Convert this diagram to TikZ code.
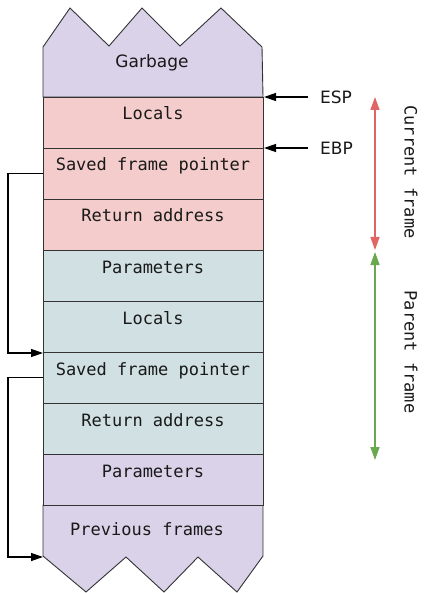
\documentclass[tikz,border=0pt]{standalone}
\usepackage{fontspec}
\setmainfont{DejaVu Sans}
\setmonofont{DejaVu Sans Mono}
\usetikzlibrary{arrows.meta,positioning}
\definecolor{garbagepurple}{HTML}{D9D2E9}
\definecolor{currentpink}{HTML}{F4CCCC}
\definecolor{parentblue}{HTML}{D0E0E3}
\definecolor{framered}{HTML}{E06666}
\definecolor{framegreen}{HTML}{6AA84F}
\tikzset{
  cell/.style={draw=black!80, line width=0.9pt, minimum width=220pt, minimum height=51pt,
    inner sep=0pt, outer sep=0pt, text height=12pt, text depth=17pt, font=\fontsize{17}{20}\selectfont\ttfamily},
  regname/.style={inner xsep=12pt, inner ysep=4pt, font=\fontsize{17}{20}\selectfont},
  framename/.style={rotate=-90, font=\fontsize{17}{20}\selectfont\ttfamily},
  ptr/.style={-{Triangle[length=12pt,width=8pt]}, line width=1.3pt},
  span/.style={{Triangle[length=13pt,width=9pt]}-{Triangle[length=13pt,width=9pt]}, line width=1.5pt}
}
\begin{document}
\begin{tikzpicture}[x=1pt, y=-1pt, text=black!90]
    \useasboundingbox (0,0) rectangle (423,593);
    % top and bottom of the stack
    \filldraw[fill=garbagepurple, draw=black!80, line width=0.9pt]
    (43,97) -- (43,47) -- (70,8) -- (109,46) -- (142,8) -- (180,46) -- (221,8) -- (262,47) -- (263,97) -- cycle;
    \filldraw[fill=garbagepurple, draw=black!80, line width=0.9pt]
    (43,505) -- (263,505) -- (263,556) -- (237,592) -- (198,557) -- (164,592) -- (126,557) -- (86,592) -- (43,556) -- cycle;
    \node[font=\fontsize{17}{20}\selectfont] (garbage) at (152,63) {Garbage};
    \node[font=\fontsize{17}{20}\selectfont\ttfamily] (prev) at (147,529) {Previous frames};
    \coordinate (prevtip) at (43,557);
    % current frame
    \node[cell, fill=currentpink, anchor=north west] (locals1) at (43,97) {Locals};
    \node[cell, fill=currentpink, below=0pt of locals1] (sfp1) {Saved frame pointer};
    \node[cell, fill=currentpink, below=0pt of sfp1] (ra1) {Return address};
    % parent frame
    \node[cell, fill=parentblue, below=0pt of ra1] (par1) {Parameters};
    \node[cell, fill=parentblue, below=0pt of par1] (locals2) {Locals};
    \node[cell, fill=parentblue, below=0pt of locals2] (sfp2) {Saved frame pointer};
    \node[cell, fill=parentblue, below=0pt of sfp2] (ra2) {Return address};
    \node[cell, fill=garbagepurple, below=0pt of ra2] (par2) {Parameters};
    % registers
    \node[regname, anchor=west] (esp) at (308,97) {ESP};
    \node[regname, anchor=west] (ebp) at (308,148) {EBP};
    \draw[ptr] (esp.west) -- ([xshift=1pt]locals1.north east);
    \draw[ptr] (ebp.west) -- ([xshift=1pt]sfp1.north east);
    % saved frame pointer chain
    \draw[ptr] (sfp1.west) -- ++(-35,0) |- ([yshift=-1pt]sfp2.north west);
    \draw[ptr] (sfp2.west) -- ++(-35,0) |- (prevtip);
    % frame extents
    \coordinate (curtop) at (375,97);
    \coordinate (curbot) at (375,250);
    \coordinate (partop) at (375,252);
    \coordinate (parbot) at (375,460);
    \draw[span, framered] (curtop) -- (curbot);
    \draw[span, framegreen] (partop) -- (parbot);
    \node[framename] (curname) at (411,172) {Current frame};
    \node[framename] (parname) at (411,352) {Parent frame};
\end{tikzpicture}
\end{document}
